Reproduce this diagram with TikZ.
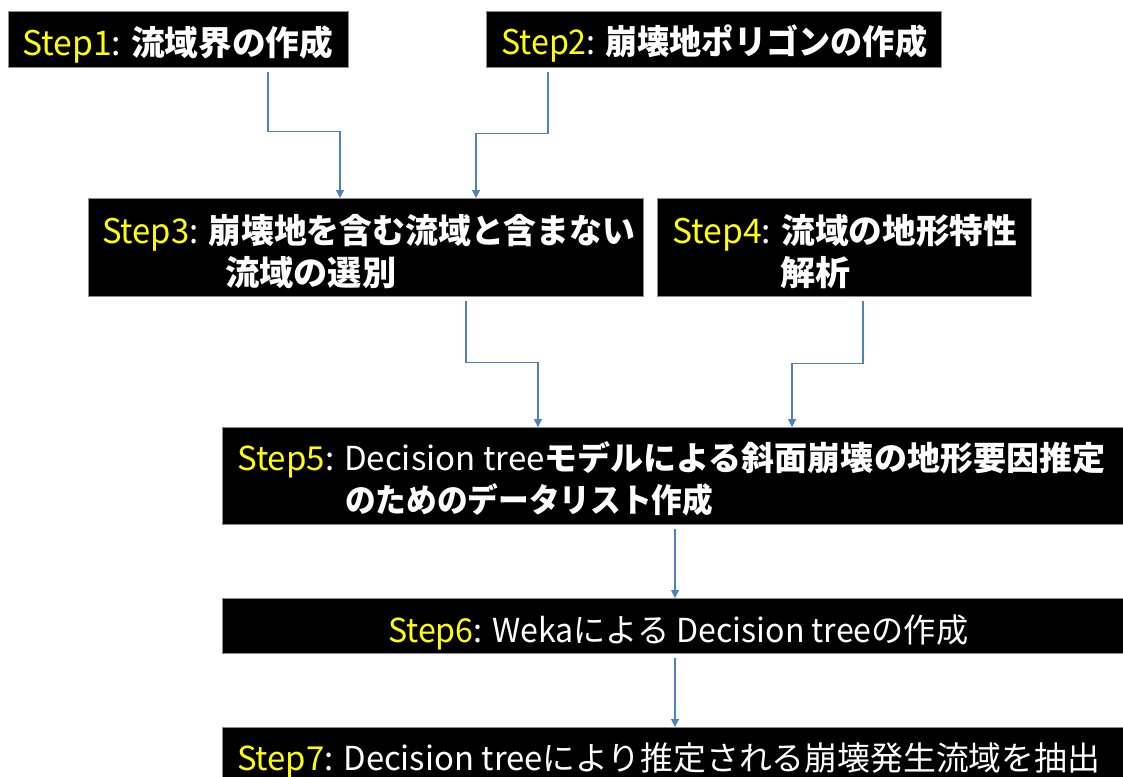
\documentclass[tikz,border=0pt]{standalone}
\usepackage{fontspec}
\setmainfont{Noto Sans CJK JP}
\usetikzlibrary{arrows.meta}
\definecolor{stepy}{HTML}{FFFF00}
\definecolor{arrblue}{HTML}{4F81BD}
\definecolor{boxedge}{HTML}{8C8C8C}
\newcommand\wfit[2]{\resizebox{#1pt}{\height}{#2}}
\newcommand\st[1]{\textcolor{stepy}{#1}}
\begin{document}
\begin{tikzpicture}[x=1pt,y=-1pt,
  box/.style={draw=boxedge, line width=0.8pt, fill=black, anchor=north west, inner sep=0pt},
  txt/.style={text=white, inner sep=0pt, anchor=base west},
  fa/.style={font=\fontsize{34}{38}\selectfont},
  fb/.style={font=\fontsize{33}{38}\selectfont},
  arr/.style={draw=arrblue, line width=1.1pt, -{Triangle[width=8pt,length=8pt]}}]
\useasboundingbox (0,0) rectangle (1123,776);
\clip (0,0) rectangle (1123,776);
% boxes
\node[box, minimum width=340, minimum height=56] (b1) at (8,11) {};
\node[box, minimum width=455, minimum height=56] (b2) at (486,11) {};
\node[box, minimum width=555, minimum height=98] (b3) at (88,198) {};
\node[box, minimum width=374, minimum height=98] (b4) at (657,198) {};
\node[box, minimum width=910, minimum height=97] (b5) at (222,427) {};
\node[box, minimum width=910, minimum height=55] (b6) at (222,598) {};
\node[box, minimum width=910, minimum height=70] (b7) at (222,727) {};
% texts
\node[txt, fa] (t1) at (22,55) {\wfit{311}{\st{Step1}: \bfseries 流域界の作成}};
\node[txt, fa] (t2) at (501,55) {\wfit{426}{\st{Step2}: \bfseries 崩壊地ポリゴンの作成}};
\node[txt, fa] (t3a) at (102,243) {\wfit{533}{\st{Step3}: \bfseries 崩壊地を含む流域と含まない}};
\node[txt, fa] (t3b) at (225,285) {\wfit{171}{\bfseries 流域の選別}};
\node[txt, fa] (t4a) at (672,243) {\wfit{345}{\st{Step4}: \bfseries 流域の地形特性}};
\node[txt, fa] (t4b) at (780,285) {\wfit{70}{\bfseries 解析}};
\node[txt, fb] (t5a) at (237,470) {\wfit{868}{\st{Step5}: Decision tree\bfseries モデルによる斜面崩壊の地形要因推定}};
\node[txt, fb] (t5b) at (345,512) {\wfit{368}{\bfseries のためのデータリスト作成}};
\node[txt, fb] (t6) at (388,642) {\wfit{580}{\st{Step6}: Wekaによる Decision treeの作成}};
\node[txt, fb] (t7) at (237,770) {\wfit{863}{\st{Step7}: Decision treeにより推定される崩壊発生流域を抽出}};
% connectors
\draw[arr] ([xshift=260pt,yshift=-4pt]b1.south west) -- ++(0,60) -| ([xshift=252pt]b3.north west);
\draw[arr] ([xshift=62pt,yshift=-4pt]b2.south west) -- ++(0,62) -| ([xshift=388pt]b3.north west);
\draw[arr] ([xshift=378pt,yshift=-4pt]b3.south west) -- ++(0,62) -| ([xshift=316pt]b5.north west);
\draw[arr] ([xshift=206pt,yshift=-4pt]b4.south west) -- ++(0,63) -| ([xshift=570pt]b5.north west);
\draw[arr] ([xshift=453pt,yshift=-4pt]b5.south west) -- ([xshift=453pt]b6.north west);
\draw[arr] ([xshift=453pt,yshift=-4pt]b6.south west) -- ([xshift=453pt]b7.north west);
\end{tikzpicture}
\end{document}
